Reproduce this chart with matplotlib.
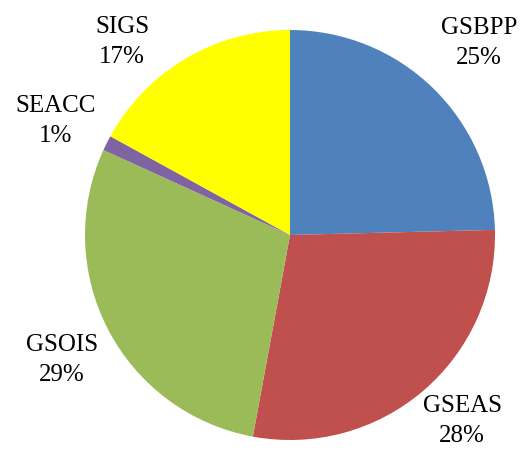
import matplotlib.pyplot as plt

# share of each school (percent)
schools = ['GSBPP', 'GSEAS', 'GSOIS', 'SEACC', 'SIGS']
shares = [24.6, 28.3, 28.9, 1.2, 17.0]
colors = ['#4F81BD', '#C0504D', '#9BBB59', '#8064A2', '#FFFF00']

# label centres in pixels (x, y from top)
label_px = [(479, 43), (462, 421), (62, 360), (56, 121), (122, 42)]

W, H = 524, 462
cx, cy, R = 290, 235, 205

fig = plt.figure(figsize=(W / 100, H / 100), dpi=100)
ax = fig.add_axes([0, 0, 1, 1])

ax.pie(shares, colors=colors, startangle=90, counterclock=False,
       radius=1, center=(0, 0), wedgeprops=dict(linewidth=0))

for name, val, (px, py) in zip(schools, shares, label_px):
    ax.text((px - cx) / R, (cy - py) / R, f'{name}\n{round(val):d}%',
            ha='center', va='center', fontsize=18, family='Liberation Serif',
            linespacing=1.5)

ax.set_xlim(-cx / R, (W - cx) / R)
ax.set_ylim((cy - H) / R, cy / R)
ax.set_aspect('auto')
ax.axis('off')

fig.savefig('out.png', dpi=100)
